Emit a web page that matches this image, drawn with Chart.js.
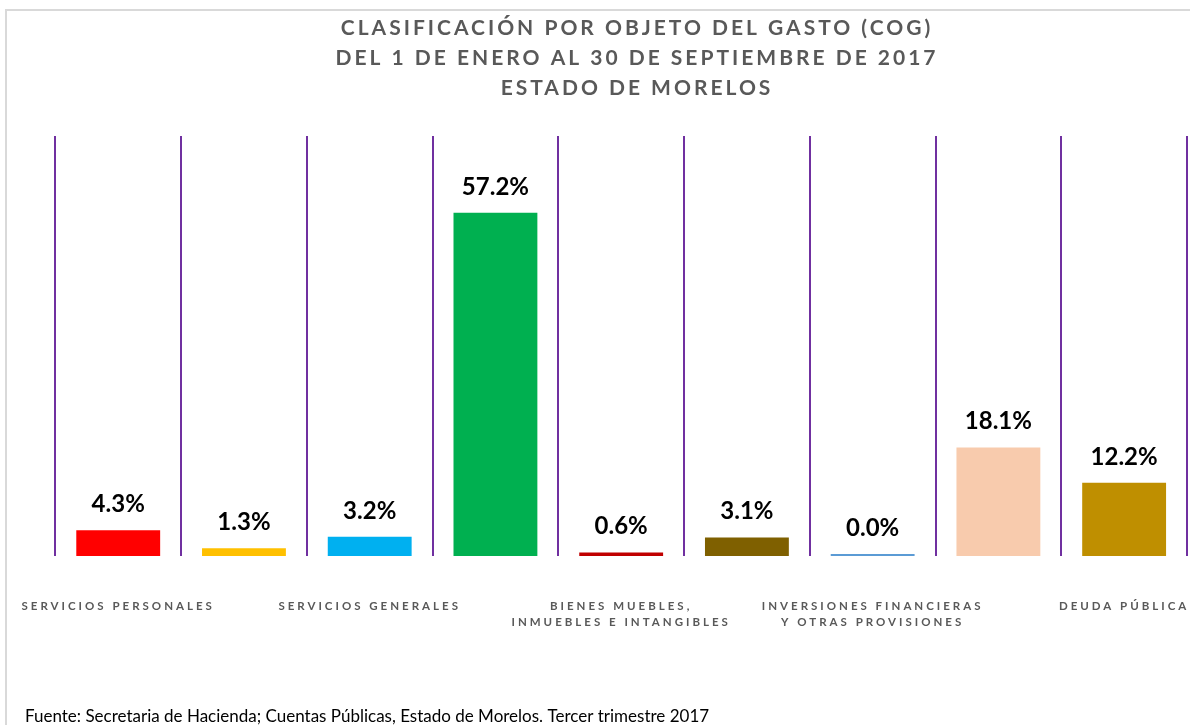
<!DOCTYPE html>
<html>
<head>
<meta charset="utf-8">
<script src="https://cdn.jsdelivr.net/npm/chart.js@4.4.1/dist/chart.umd.min.js"></script>
<style>
    html, body { margin: 0; padding: 0; background: #fff; overflow: hidden; width: 1190px; height: 725px; }
    #frame { position: absolute; left: 5px; top: 9px; border-left: 2px solid #d9d9d9; border-top: 2px solid #d9d9d9; }
    #frame canvas { display: block; }
</style>
</head>
<body>
<div id="frame"><canvas id="cog" width="1260" height="714"></canvas></div>
<script>
// capitulos del COG, porcentaje del gasto ejercido
const categories = [
    ['SERVICIOS PERSONALES'],
    ['MATERIALES Y SUMINISTROS'],
    ['SERVICIOS GENERALES'],
    ['TRANSFERENCIAS, ASIGNACIONES,', 'SUBSIDIOS Y OTRAS AYUDAS'],
    ['BIENES MUEBLES,', 'INMUEBLES E INTANGIBLES'],
    ['INVERSIÓN PÚBLICA'],
    ['INVERSIONES FINANCIERAS', 'Y OTRAS PROVISIONES'],
    ['PARTICIPACIONES Y APORTACIONES'],
    ['DEUDA PÚBLICA']
];
const shares = [4.3, 1.3, 3.2, 57.2, 0.6, 3.1, 0.0, 18.1, 12.2];
const barColors = ['#FF0000', '#FFC000', '#00B0F0', '#00B050', '#C00000', '#7F6000', '#5B9BD5', '#F8CBAD', '#BF8F00'];
const titleLines = [
    'CLASIFICACIÓN POR OBJETO DEL GASTO (COG)',
    'DEL 1 DE ENERO AL 30 DE SEPTIEMBRE DE 2017',
    'ESTADO DE MORELOS'
];
const sourceNote = 'Fuente: Secretaria de Hacienda; Cuentas Públicas, Estado de Morelos. Tercer trimestre 2017';

const FONT = 'Lato';

// espaciado de letras para titulo y etiquetas del eje, como en Excel
const spacedText = {
    id: 'spacedText',
    beforeDraw(chart) {
        chart.ctx.letterSpacing = '3px';
    },
    afterDatasetsDraw(chart) {
        const ctx = chart.ctx;
        ctx.save();
        ctx.letterSpacing = '0px';
        ctx.font = 'bold 24px ' + FONT;
        ctx.fillStyle = '#000';
        ctx.textAlign = 'center';
        ctx.textBaseline = 'alphabetic';
        chart.getDatasetMeta(0).data.forEach((bar, i) => {
            const v = chart.data.datasets[0].data[i];
            ctx.fillText(v.toFixed(1) + '%', bar.x, bar.y - 18);
        });
        ctx.restore();
    },
    afterDraw(chart) {
        const ctx = chart.ctx;
        ctx.save();
        ctx.letterSpacing = '0px';
        ctx.font = '17px ' + FONT;
        ctx.fillStyle = '#000';
        ctx.textAlign = 'left';
        ctx.textBaseline = 'alphabetic';
        ctx.fillText(sourceNote, 18, 711);
        ctx.restore();
    }
};

new Chart(document.getElementById('cog'), {
    type: 'bar',
    data: {
        labels: categories,
        datasets: [{
            data: shares,
            backgroundColor: barColors,
            borderWidth: 0,
            barPercentage: 0.667,
            categoryPercentage: 1,
            minBarLength: 2
        }]
    },
    options: {
        responsive: false,
        animation: false,
        events: [],
        layout: { padding: 0 },
        plugins: {
            legend: { display: false },
            tooltip: { enabled: false },
            title: {
                display: true,
                text: titleLines,
                color: '#595959',
                font: { family: FONT, size: 21, weight: 'bold', lineHeight: 1.43 },
                padding: { top: 2, bottom: 33 }
            }
        },
        scales: {
            x: {
                grid: { display: true, offset: true, color: '#7030A0', lineWidth: 2, drawTicks: false },
                border: { display: false },
                ticks: {
                    autoSkip: false,
                    maxRotation: 0,
                    minRotation: 0,
                    padding: 42,
                    color: '#595959',
                    font: { family: FONT, size: 11.5, weight: 'bold', lineHeight: 1.4 },
                    callback: (value, index) => index % 2 === 0 ? categories[index] : ''
                },
                afterFit(scale) { scale.height = 169; }
            },
            y: {
                min: 0,
                max: 70,
                grid: { display: false },
                border: { display: false },
                ticks: { display: false },
                afterFit(scale) { scale.width = 46; }
            },
            yRight: {
                type: 'linear',
                position: 'right',
                grid: { display: false },
                border: { display: false },
                ticks: { display: false },
                afterFit(scale) { scale.width = 80; }
            }
        }
    },
    plugins: [spacedText]
});
</script>
</body>
</html>
